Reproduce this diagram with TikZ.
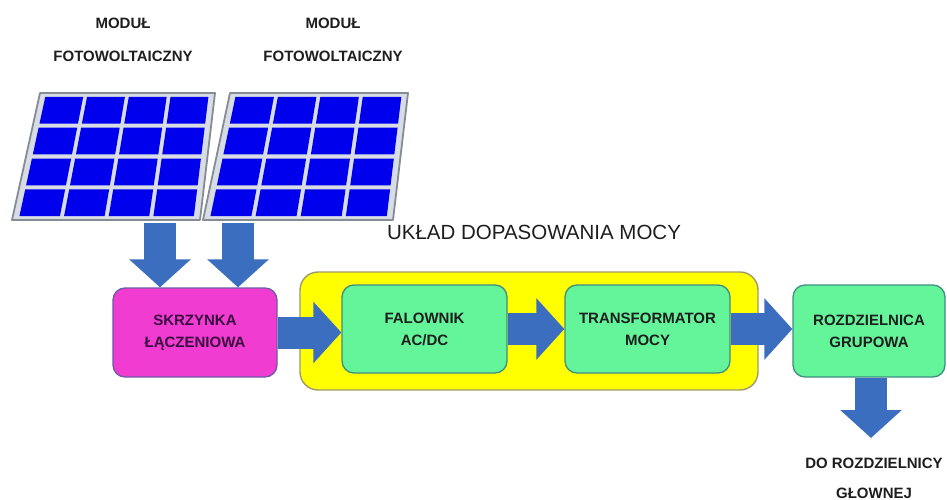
\documentclass[tikz,border=0pt]{standalone}
\usepackage{fontspec}
\setmainfont{Liberation Sans}
\usetikzlibrary{arrows.meta,calc}

\definecolor{flowblue}{HTML}{3C6EBF}
\definecolor{cellblue}{HTML}{0000EC}
\definecolor{framefill}{HTML}{D8DCE4}
\definecolor{frameline}{HTML}{858C94}
\definecolor{boxmagenta}{HTML}{F03CD0}
\definecolor{magentaline}{HTML}{6E5AA8}
\definecolor{boxmint}{HTML}{64F49A}
\definecolor{mintline}{HTML}{3F8E84}
\definecolor{boxyellow}{HTML}{FFFF00}
\definecolor{yellowline}{HTML}{9C9A6C}
\definecolor{labelink}{HTML}{1E1E1E}
\definecolor{magentaink}{HTML}{3A0C40}

% point (u,v) of a solar module whose corners are set by \pvpanel
\newcommand\pvpt[3]{%
  \pgfmathsetmacro\ptx{(1-#2)*(\pBLx+#1*(\pBRx-\pBLx))+#2*(\pTLx+#1*(\pTRx-\pTLx))}%
  \pgfmathsetmacro\pty{\pBy+#2*(\pTy-\pBy)}%
  \coordinate (#3) at (\ptx,\pty);}

% solar module: frame plus 4x4 cells; args BLx BRx TLx TRx bottom-y top-y
\newcommand\pvpanel[6]{%
  \def\pBLx{#1}\def\pBRx{#2}\def\pTLx{#3}\def\pTRx{#4}\def\pBy{#5}\def\pTy{#6}%
  \pvpt{0}{0}{f1}\pvpt{1}{0}{f2}\pvpt{1}{1}{f3}\pvpt{0}{1}{f4}%
  \filldraw[fill=framefill,draw=frameline,line width=1.8pt,line join=round]
    (f1)--(f2)--(f3)--(f4)--cycle;
  \foreach \i in {0,...,3}{\foreach \j in {0,...,3}{%
    \pgfmathsetmacro\ua{0.035+\i*0.238}%
    \pgfmathsetmacro\ub{\ua+0.216}%
    \pgfmathsetmacro\va{0.03+\j*0.243}%
    \pgfmathsetmacro\vb{\va+0.211}%
    \pvpt{\ua}{\va}{c1}\pvpt{\ub}{\va}{c2}\pvpt{\ub}{\vb}{c3}\pvpt{\ua}{\vb}{c4}%
    \fill[cellblue] (c1)--(c2)--(c3)--(c4)--cycle;
  }}%
}

\begin{document}
\begin{tikzpicture}[x=1pt,y=-1pt,
  capfont/.style={font=\fontsize{15}{17}\selectfont\bfseries, text=labelink},
  boxfont/.style={font=\fontsize{15}{22}\selectfont\bfseries, text=labelink},
  stage/.style={boxfont, draw=mintline, fill=boxmint, line width=1.3pt,
    rounded corners=12pt, inner sep=0pt, align=center},
  fatflow/.style={draw=flowblue, line width=32pt,
    -{Triangle[length=28pt,width=60pt]}}]

\useasboundingbox (0,0) rectangle (947,500);
\fill[white] (0,0) rectangle (947,500);

% module captions
\node[capfont] (m1a) at (123,23) {MODUŁ};
\node[capfont] (m1b) at (123,56) {FOTOWOLTAICZNY};
\node[capfont] (m2a) at (333,23) {MODUŁ};
\node[capfont] (m2b) at (333,56) {FOTOWOLTAICZNY};

% the two solar modules
\pvpanel{12}{200}{40}{215}{220}{93}
\pvpanel{203}{393}{230}{408}{220}{93}

% power matching unit (yellow group)
\node[draw=yellowline, fill=boxyellow, line width=1.4pt, rounded corners=18pt,
  minimum width=458pt, minimum height=118pt, inner sep=0pt] (unit) at (529,331) {};
\node[font=\fontsize{20.5}{24}\selectfont, text=labelink] (unitlbl) at (534,232)
  {UKŁAD DOPASOWANIA MOCY};

% blocks
\node[boxfont, text=magentaink, draw=magentaline, fill=boxmagenta, line width=1.3pt,
  rounded corners=12pt, inner sep=0pt, align=center,
  minimum width=164pt, minimum height=89pt] (skr) at (195,332.5)
  {SKRZYNKA\\ŁĄCZENIOWA};
\node[stage, minimum width=165pt, minimum height=88pt] (fal) at (424.5,329)
  {FALOWNIK\\AC/DC};
\node[stage, minimum width=165pt, minimum height=88pt] (tra) at (647.5,329)
  {TRANSFORMATOR\\MOCY};
\node[stage, minimum width=152pt, minimum height=92pt] (roz) at (869,331)
  {ROZDZIELNICA\\GRUPOWA};

% output caption
\node[capfont] (out1) at (874,463) {DO ROZDZIELNICY};
\node[capfont] (out2) at (874,493) {GŁOWNEJ};

% flow arrows
\coordinate (src1) at (160,223);
\coordinate (src2) at (238,223);
\coordinate (dst) at (871,438);
\draw[fatflow] (src1) -- (src1 |- skr.north);
\draw[fatflow] (src2) -- (src2 |- skr.north);
\draw[fatflow] (skr.east) -- (skr.east -| fal.west);
\draw[fatflow] (fal.east) -- (tra.west);
\draw[fatflow] (tra.east) -- (tra.east -| roz.west);
\draw[fatflow] (roz.south -| dst) -- (dst);
\end{tikzpicture}
\end{document}
